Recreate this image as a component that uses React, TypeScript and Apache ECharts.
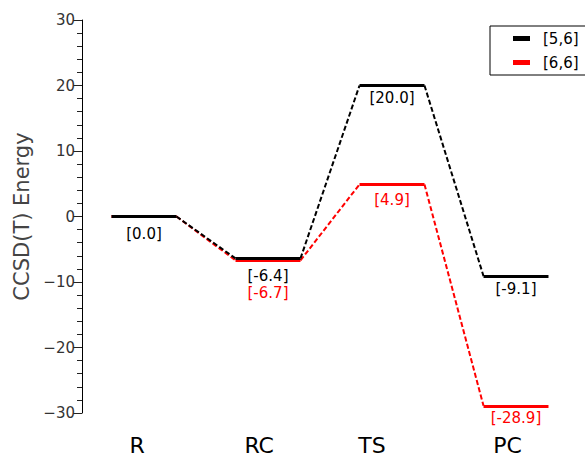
import React, { useEffect, useRef } from 'react';
import * as echarts from 'echarts';

const categories = ['R', 'RC', 'TS', 'PC'];
const categoryLabelPos = [-0.056, 0.929, 1.839, 2.931];
const seriesNames = ['[5,6]', '[6,6]'];
const energies56 = [0.0, -6.4, 20.0, -9.1];
const energies66 = [0.0, -6.7, 4.9, -28.9];
const yMin = -30;
const yMax = 30;
const yInterval = 10;

const HALF = 0.262;
const FONT = '"DejaVu Sans", sans-serif';
const BLACK = '#000000';
const RED = '#ff0000';
// label gap (px) below each level, per group
const labelGap56 = [10, 10, 5, 5];
const labelGap66 = [0, 25, 8, 5];

function levelData(vals: number[]) {
  return vals.map((v, i) => ({ coords: [[i - HALF, v], [i + HALF, v]] }));
}
function connectorData(vals: number[]) {
  return vals.slice(1).map((v, i) => ({ coords: [[i + HALF, vals[i]], [i + 1 - HALF, v]] }));
}

function groupSeries(name: string, vals: number[], color: string, labelIdx: number[], gaps: number[]) {
  return [
    {
      name,
      type: 'lines',
      coordinateSystem: 'cartesian2d',
      data: connectorData(vals),
      lineStyle: { color, width: 2, type: [5, 2.5], opacity: 1 },
      itemStyle: { color },
      silent: true,
    },
    {
      name,
      type: 'lines',
      coordinateSystem: 'cartesian2d',
      data: levelData(vals),
      lineStyle: { color, width: 3, type: 'solid', opacity: 1 },
      itemStyle: { color },
      silent: true,
    },
    {
      name,
      type: 'scatter',
      symbolSize: 0,
      itemStyle: { color, opacity: 1 },
      z: 5,
      data: labelIdx.map((i) => ({
        value: [i, vals[i]],
        label: { distance: gaps[i] },
      })),
      label: {
        show: true,
        position: 'bottom',
        color,
        opacity: 1,
        fontSize: 15,
        fontFamily: FONT,
        formatter: (p: any) => `[${p.value[1].toFixed(1)}]`,
      },
      silent: true,
    },
  ];
}

export default function App() {
  const ref = useRef<HTMLDivElement>(null);
  useEffect(() => {
    if (!ref.current) return;
    const chart = echarts.init(ref.current, undefined, { renderer: 'svg' });
    chart.setOption({
      animation: false,
      backgroundColor: '#ffffff',
      grid: { left: 82, right: 7, top: 20, bottom: 45, containLabel: false },
      legend: {
        orient: 'vertical',
        left: 490,
        top: 26,
        data: [
          { name: seriesNames[0], icon: 'rect', itemStyle: { color: BLACK } },
          { name: seriesNames[1], icon: 'rect', itemStyle: { color: RED } },
        ],
        itemWidth: 15,
        itemHeight: 3,
        itemGap: 9,
        padding: [5, 12, 5, 23],
        borderColor: '#000',
        borderWidth: 1,
        borderRadius: 0,
        backgroundColor: '#fff',
        textStyle: { fontSize: 15, color: '#000', fontFamily: FONT, padding: [0, 0, 0, 9] },
      },
      xAxis: {
        type: 'value',
        min: -0.5,
        max: 3.5,
        axisLine: { show: false, onZero: false },
        axisTick: { show: false },
        splitLine: { show: false },
        axisLabel: {
          customValues: categoryLabelPos,
          formatter: (v: number) => {
            let best = 0;
            categoryLabelPos.forEach((p, i) => {
              if (Math.abs(p - v) < Math.abs(categoryLabelPos[best] - v)) best = i;
            });
            return categories[best];
          },
          fontSize: 22,
          color: '#000',
          fontFamily: FONT,
          margin: 21,
        },
      },
      yAxis: {
        type: 'value',
        min: yMin,
        max: yMax,
        interval: yInterval,
        name: 'CCSD(T) Energy',
        nameLocation: 'middle',
        nameGap: 44,
        nameTextStyle: { fontSize: 21, color: '#444', fontFamily: FONT },
        axisLine: { show: true, onZero: false, lineStyle: { color: '#000', width: 1 } },
        axisTick: { show: true, length: 9, lineStyle: { color: '#222', width: 1 } },
        minorTick: { show: true, splitNumber: 5, length: 5, lineStyle: { color: '#222', width: 1 } },
        splitLine: { show: false },
        minorSplitLine: { show: false },
        axisLabel: {
          fontSize: 15,
          color: '#333',
          fontFamily: FONT,
          margin: 7,
          formatter: (v: number) => String(v).replace('-', '\u2212'),
        },
      },
      series: [
        ...groupSeries(seriesNames[1], energies66, RED, [1, 2, 3], labelGap66),
        ...groupSeries(seriesNames[0], energies56, BLACK, [0, 1, 2, 3], labelGap56),
      ],
    });
    return () => chart.dispose();
  }, []);
  return (
    <div
      ref={ref}
      style={{ position: 'fixed', left: 0, top: 0, width: 585, height: 458 }}
    />
  );
}
